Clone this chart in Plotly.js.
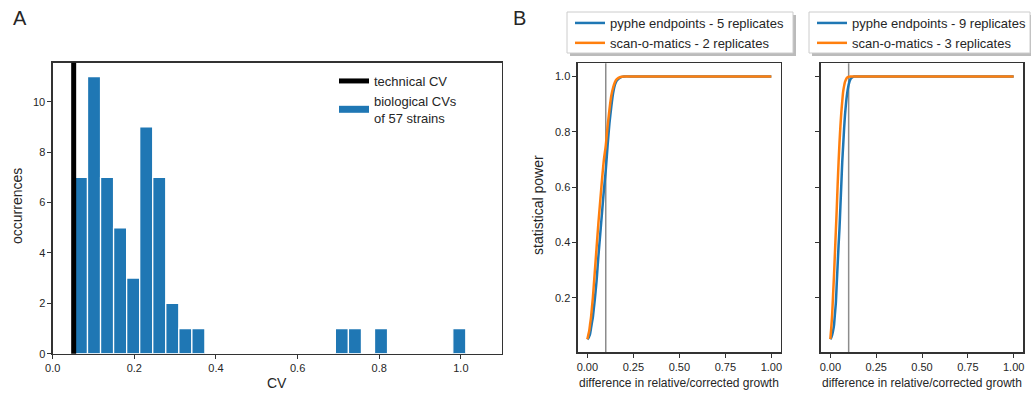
<!DOCTYPE html>
<html>
<head>
<meta charset="utf-8">
<script src="https://cdn.plot.ly/plotly-3.0.1.min.js"></script>
<style>html,body{margin:0;padding:0;background:#fff;}#chart{width:1031px;height:394px;}</style>
</head>
<body>
<div id="chart"></div>
<script>
// ---------- Panel A data ----------
const histBinStart = 0.0533;   // left edge of first bin (CV)
const histBinWidth = 0.03196;  // bin width (CV)
const histCounts = [7, 11, 7, 5, 3, 9, 7, 2, 1, 1,
                    0, 0, 0, 0, 0, 0, 0, 0, 0, 0,
                    1, 1, 0, 1, 0, 0, 0, 0, 0, 1];
const technicalCV = 0.0514;
const histLegendNames = ["technical CV", "biological CVs<br>of 57 strains"];

// ---------- Panel B data ----------
const diffX = [0, 0.005, 0.01, 0.015, 0.02, 0.025, 0.03, 0.035, 0.04, 0.045, 0.05,
               0.055, 0.06, 0.065, 0.07, 0.075, 0.08, 0.09, 0.1, 0.11, 0.12, 0.13,
               0.14, 0.15, 0.16, 0.18, 0.2, 0.25, 0.5, 0.75, 1.0];
const powerPyphe5 = [0.05, 0.053, 0.06, 0.07, 0.09, 0.11, 0.13, 0.16, 0.19, 0.225, 0.26,
                     0.305, 0.35, 0.39, 0.43, 0.47, 0.51, 0.59, 0.66, 0.75, 0.83, 0.89,
                     0.94, 0.97, 0.985, 0.997, 1.0, 1.0, 1.0, 1.0, 1.0];
const powerSom2 = [0.05, 0.065, 0.08, 0.105, 0.13, 0.165, 0.2, 0.245, 0.29, 0.335, 0.38,
                   0.425, 0.47, 0.51, 0.55, 0.59, 0.63, 0.70, 0.75, 0.82, 0.88, 0.93,
                   0.96, 0.98, 0.99, 0.998, 1.0, 1.0, 1.0, 1.0, 1.0];
const powerPyphe9 = [0.05, 0.055, 0.065, 0.08, 0.10, 0.14, 0.18, 0.25, 0.32, 0.39, 0.45,
                     0.53, 0.61, 0.69, 0.75, 0.81, 0.86, 0.93, 0.97, 0.99, 0.997, 1.0,
                     1.0, 1.0, 1.0, 1.0, 1.0, 1.0, 1.0, 1.0, 1.0];
const powerSom3 = [0.05, 0.09, 0.14, 0.21, 0.28, 0.36, 0.44, 0.52, 0.61, 0.69, 0.76,
                   0.82, 0.87, 0.91, 0.945, 0.965, 0.98, 0.995, 0.999, 1.0, 1.0, 1.0,
                   1.0, 1.0, 1.0, 1.0, 1.0, 1.0, 1.0, 1.0, 1.0];
const thresholdDiff = 0.1;
const leftNames = ["pyphe endpoints - 5 replicates", "scan-o-matics - 2 replicates"];
const rightNames = ["pyphe endpoints - 9 replicates", "scan-o-matics - 3 replicates"];

// ---------- helpers ----------
const W = 1031, H = 394;
const px = v => v / W;
const py = v => 1 - v / H;
const BLUE = "#1f77b4", ORANGE = "#ff7f0e", INK = "#262626", SPINE = "#333333";
const FONT = "Liberation Sans, Arial, sans-serif";

const binCenters = histCounts.map((_, i) => histBinStart + histBinWidth * (i + 0.5));

const traces = [
  // legend stand-ins for panel A
  {x: [null], y: [null], type: "scatter", mode: "lines", name: histLegendNames[0],
   line: {color: "#000", width: 5}, xaxis: "x", yaxis: "y", legend: "legend", hoverinfo: "skip"},
  {x: [null], y: [null], type: "scatter", mode: "lines", name: histLegendNames[1],
   line: {color: BLUE, width: 7}, xaxis: "x", yaxis: "y", legend: "legend", hoverinfo: "skip"},
  {x: binCenters, y: histCounts, type: "bar", width: histBinWidth, showlegend: false,
   marker: {color: BLUE, line: {color: "#fff", width: 1.3}}, xaxis: "x", yaxis: "y"},
  // Panel B left
  {x: diffX, y: powerPyphe5, type: "scatter", mode: "lines", name: leftNames[0],
   line: {color: BLUE, width: 2.5, shape: "spline", smoothing: 0.6}, xaxis: "x2", yaxis: "y2", legend: "legend2"},
  {x: diffX, y: powerSom2, type: "scatter", mode: "lines", name: leftNames[1],
   line: {color: ORANGE, width: 2.5, shape: "spline", smoothing: 0.6}, xaxis: "x2", yaxis: "y2", legend: "legend2"},
  // Panel B right
  {x: diffX, y: powerPyphe9, type: "scatter", mode: "lines", name: rightNames[0],
   line: {color: BLUE, width: 2.5, shape: "spline", smoothing: 0.6}, xaxis: "x3", yaxis: "y3", legend: "legend3"},
  {x: diffX, y: powerSom3, type: "scatter", mode: "lines", name: rightNames[1],
   line: {color: ORANGE, width: 2.5, shape: "spline", smoothing: 0.6}, xaxis: "x3", yaxis: "y3", legend: "legend3"}
];

const axBase = {
  showline: true, mirror: true, linecolor: SPINE, linewidth: 1.25,
  ticks: "outside", ticklen: 4, tickwidth: 1, tickcolor: SPINE,
  showgrid: false, zeroline: false, fixedrange: true,
  tickfont: {family: FONT, size: 11, color: INK}
};
const yDomA = [py(353.7), py(62.7)];
const yDomB = [py(352.3), py(63.3)];

const legBase = {
  bgcolor: "rgba(0,0,0,0)", borderwidth: 0, xanchor: "left", yanchor: "top",
  font: {family: FONT, size: 13, color: INK}, itemwidth: 30, tracegroupgap: 0
};

const boxLine = {color: "#cccccc", width: 1};
const shapes = [
  {type: "line", xref: "x", yref: "y domain", x0: technicalCV, x1: technicalCV, y0: 0, y1: 1,
   line: {color: "#000", width: 5}},
  {type: "line", xref: "x2", yref: "y2 domain", x0: thresholdDiff, x1: thresholdDiff, y0: 0, y1: 1,
   line: {color: "#8c8c8c", width: 1.5}, layer: "below"},
  {type: "line", xref: "x3", yref: "y3 domain", x0: thresholdDiff, x1: thresholdDiff, y0: 0, y1: 1,
   line: {color: "#8c8c8c", width: 1.5}, layer: "below"},
  // legend boxes with shadows (panel B)
  {type: "rect", xref: "paper", yref: "paper", x0: px(570), x1: px(796), y0: py(56), y1: py(15),
   fillcolor: "rgba(120,120,120,0.5)", line: {width: 0}},
  {type: "rect", xref: "paper", yref: "paper", x0: px(567), x1: px(793), y0: py(53), y1: py(12),
   fillcolor: "#fff", line: boxLine},
  {type: "rect", xref: "paper", yref: "paper", x0: px(812), x1: px(1033), y0: py(56), y1: py(15),
   fillcolor: "rgba(120,120,120,0.5)", line: {width: 0}},
  {type: "rect", xref: "paper", yref: "paper", x0: px(809), x1: px(1030), y0: py(53), y1: py(12),
   fillcolor: "#fff", line: boxLine}
];

const ann = (text, x, y, size, extra) => Object.assign({
  text, xref: "paper", yref: "paper", x: px(x), y: py(y), showarrow: false,
  xanchor: "center", yanchor: "middle", font: {family: FONT, size, color: INK}
}, extra || {});

const annotations = [
  ann("A", 11, 18, 20, {xanchor: "left"}),
  ann("B", 511, 18, 20, {xanchor: "left"}),
  ann("CV", 277, 383, 14),
  ann("occurrences", 17, 206, 14, {textangle: -90}),
  ann("statistical power", 538, 205, 14, {textangle: -90}),
  ann("difference in relative/corrected growth", 679, 383, 12),
  ann("difference in relative/corrected growth", 922, 383, 12)
];

const layout = {
  width: W, height: H,
  margin: {l: 0, r: 0, t: 0, b: 0},
  paper_bgcolor: "#fff", plot_bgcolor: "#fff",
  font: {family: FONT, color: INK},
  bargap: 0,
  xaxis: Object.assign({}, axBase, {domain: [px(52.7), px(501.7)], range: [0, 1.1], dtick: 0.2, tick0: 0, tickformat: ".1f", anchor: "y"}),
  yaxis: Object.assign({}, axBase, {domain: yDomA, range: [0, 11.55], dtick: 2, tick0: 0, anchor: "x"}),
  xaxis2: Object.assign({}, axBase, {domain: [px(577.7), px(781)], range: [-0.0525, 1.0525], dtick: 0.25, tick0: 0, tickformat: ".2f", anchor: "y2"}),
  yaxis2: Object.assign({}, axBase, {domain: yDomB, range: [0.0025, 1.0475], dtick: 0.2, tick0: 0, tickformat: ".1f", anchor: "x2"}),
  xaxis3: Object.assign({}, axBase, {domain: [px(820.7), px(1023.3)], range: [-0.0525, 1.0525], dtick: 0.25, tick0: 0, tickformat: ".2f", anchor: "y3"}),
  yaxis3: Object.assign({}, axBase, {domain: yDomB, range: [0.0025, 1.0475], dtick: 0.2, tick0: 0, showticklabels: false, anchor: "x3"}),
  legend: Object.assign({}, legBase, {x: px(334), y: py(66)}),
  legend2: Object.assign({}, legBase, {x: px(570), y: py(8)}),
  legend3: Object.assign({}, legBase, {x: px(812), y: py(8)}),
  shapes, annotations
};

Plotly.newPlot("chart", traces, layout, {staticPlot: true, displayModeBar: false});
</script>
</body>
</html>
